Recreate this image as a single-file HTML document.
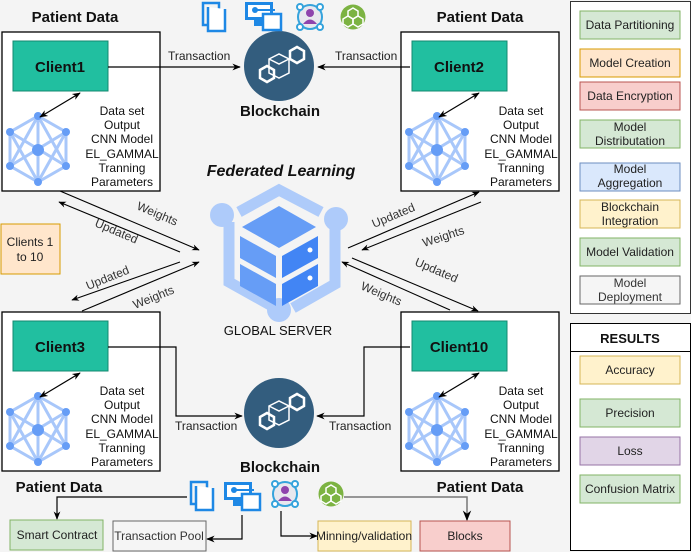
<!DOCTYPE html>
<html><head><meta charset="utf-8"><style>
html,body{margin:0;padding:0;background:#f4f4f4;}
svg{display:block;font-family:"Liberation Sans",sans-serif;}
</style></head><body>
<svg width="691" height="552" viewBox="0 0 691 552" xmlns="http://www.w3.org/2000/svg">
<defs>
<marker id="a" viewBox="0 0 10 10" refX="9" refY="5" markerWidth="7" markerHeight="7" orient="auto-start-reverse"><path d="M0,1 L10,5 L0,9 L3,5 z" fill="#000"/></marker>
<g id="net">
 <g stroke="#a8c7fa" stroke-width="3" fill="none">
  <polygon points="0,-34 28,-18 28,16 0,32 -28,16 -28,-18"/>
  <line x1="0" y1="-34" x2="0" y2="32"/><line x1="-28" y1="-18" x2="28" y2="16"/><line x1="28" y1="-18" x2="-28" y2="16"/>
  <line x1="0" y1="-34" x2="-28" y2="16"/><line x1="0" y1="-34" x2="28" y2="16"/>
  <line x1="0" y1="32" x2="-28" y2="-18"/><line x1="0" y1="32" x2="28" y2="-18"/>
  <line x1="-28" y1="-18" x2="-28" y2="16"/>
 </g>
 <g fill="#669df6"><circle cx="0" cy="-34" r="4"/><circle cx="28" cy="-18" r="4"/><circle cx="28" cy="16" r="4"/><circle cx="0" cy="32" r="4"/><circle cx="-28" cy="16" r="4"/><circle cx="-28" cy="-18" r="4"/><circle cx="0" cy="0" r="6"/></g>
</g>
<g id="bc">
 <circle r="35" fill="#335d7e"/>
 <g stroke="#fff" stroke-width="2.5" fill="none">
  <polygon points="-19,4 -12,0 -5,4 -5,12 -12,16 -19,12"/>
  <polygon points="11,-15 18,-19 25,-15 25,-7 18,-3 11,-7"/>
  <polygon points="-10,-7 0,-12 10,-7 10,7 0,12 -10,7" stroke-width="1.5"/>
  <polyline points="-10,-7 0,-2 10,-7 M0,-2 0,12" stroke-width="1.5"/>
 </g>
</g>
<g id="cl">
 <rect x="0" y="0" width="158" height="159" fill="#fff" stroke="#000" stroke-width="1.3"/>
 <rect x="11" y="9" width="95" height="50" fill="#21bfa0" stroke="#148a70"/>
 <use href="#net" x="36" y="118"/>
 <line x1="78" y1="61" x2="38" y2="85" stroke="#000" stroke-width="1.2" marker-start="url(#a)" marker-end="url(#a)"/>
 <g font-size="12" text-anchor="middle" fill="#111">
  <text x="120" y="83">Data set</text><text x="120" y="97">Output</text><text x="120" y="111">CNN Model</text><text x="120" y="126">EL_GAMMAL</text><text x="120" y="140">Tranning</text><text x="120" y="154">Parameters</text>
 </g>
</g>
<g id="doc"><rect x="2" y="0" width="16" height="22" fill="none" stroke="#1e88e5" stroke-width="2.5"/><path d="M7,4 V28 H24 V6" fill="#fff" stroke="#1e88e5" stroke-width="2.5"/></g>
<g id="mon"><rect x="0" y="0" width="28" height="18" fill="#1e88e5"/><rect x="3" y="3" width="22" height="12" fill="#fff"/><rect x="9" y="18" width="10" height="6" fill="#1e88e5"/><rect x="18" y="12" width="18" height="16" fill="#fff" stroke="#1e88e5" stroke-width="2.5"/><circle cx="10" cy="8" r="3" fill="#1e88e5"/><line x1="10" y1="8" x2="30" y2="8" stroke="#1e88e5" stroke-width="2"/></g>
<g id="per"><circle cx="15" cy="15" r="12" fill="#e8e8ee" stroke="#35a3dc" stroke-width="2"/><circle cx="5" cy="5" r="3" fill="#fff" stroke="#35a3dc" stroke-width="2"/><circle cx="25" cy="5" r="3" fill="#fff" stroke="#35a3dc" stroke-width="2"/><circle cx="5" cy="25" r="3" fill="#fff" stroke="#35a3dc" stroke-width="2"/><circle cx="25" cy="25" r="3" fill="#fff" stroke="#35a3dc" stroke-width="2"/><circle cx="15" cy="11" r="4" fill="#8e44ad"/><path d="M8,22 Q15,13 22,22 z" fill="#8e44ad"/></g>
<g id="grn"><circle cx="12" cy="12" r="12.5" fill="#7cb342"/><g stroke="#fff" stroke-width="1.5" fill="none"><polygon points="12,3 17,6 17,11 12,14 7,11 7,6"/><polygon points="7,11 12,14 12,19 7,22 2,19 2,14"/><polygon points="17,11 22,14 22,19 17,22 12,19 12,14"/></g></g>
</defs>

<!-- clients -->
<use href="#cl" x="2" y="32"/>
<use href="#cl" x="401" y="32"/>
<use href="#cl" x="2" y="312"/>
<use href="#cl" x="401" y="312"/>
<g font-size="15" font-weight="bold" text-anchor="middle" fill="#111">
<text x="60" y="72">Client1</text><text x="459" y="72">Client2</text><text x="60" y="352">Client3</text><text x="459" y="352">Client10</text>
<text x="75" y="22">Patient Data</text><text x="480" y="22">Patient Data</text>
<text x="59" y="492">Patient Data</text><text x="480" y="492">Patient Data</text>
<text x="280" y="116">Blockchain</text><text x="280" y="472">Blockchain</text>
</g>
<text x="281" y="176" font-size="16" font-weight="bold" font-style="italic" text-anchor="middle" fill="#111">Federated Learning</text>
<text x="278" y="335" font-size="13" text-anchor="middle" fill="#111">GLOBAL SERVER</text>

<!-- blockchains -->
<use href="#bc" x="279" y="66"/>
<use href="#bc" x="279" y="413"/>
<g stroke="#000" stroke-width="1.2" fill="none">
<line x1="108" y1="67" x2="240" y2="67" marker-end="url(#a)"/>
<line x1="410" y1="67" x2="318" y2="67" marker-end="url(#a)"/>
<polyline points="108,347 176,347 176,416 242,416" marker-end="url(#a)"/>
<polyline points="410,347 364,347 364,416 317,416" marker-end="url(#a)"/>
</g>
<g font-size="12" fill="#222">
<text x="168" y="60">Transaction</text><text x="335" y="60">Transaction</text>
<text x="175" y="430">Transaction</text><text x="329" y="430">Transaction</text>
</g>

<!-- server icon -->
<g transform="translate(279,252)">
 <g stroke="#aecbfa" stroke-width="11" fill="none">
  <polyline points="-50,-30 -50,30 0,58"/>
  <polyline points="-40,-40 0,-62 42,-40"/>
  <polyline points="56,-25 56,32 14,56"/>
 </g>
 <g fill="#aecbfa"><circle cx="-57" cy="-37" r="12"/><circle cx="57" cy="-33" r="12"/><circle cx="0" cy="58" r="12"/></g>
 <polygon points="0,-46 37,-25 0,-4 -37,-25" fill="#669df6"/>
 <polygon points="-39,-16 -3,4 -3,26 -39,6" fill="#669df6"/>
 <polygon points="3,4 39,-16 39,6 3,26" fill="#4285f4"/>
 <polygon points="-39,12 -3,32 -3,54 -39,34" fill="#669df6"/>
 <polygon points="3,32 39,12 39,34 3,54" fill="#4285f4"/>
 <circle cx="31" cy="-2" r="2.5" fill="#fff"/><circle cx="31" cy="26" r="2.5" fill="#fff"/>
</g>

<!-- weights arrows -->
<g stroke="#000" stroke-width="1.1">
<line x1="60" y1="191" x2="199" y2="250" marker-end="url(#a)"/>
<line x1="180" y1="252" x2="59" y2="202" marker-end="url(#a)"/>
<line x1="180" y1="262" x2="72" y2="300" marker-end="url(#a)"/>
<line x1="82" y1="311" x2="199" y2="262" marker-end="url(#a)"/>
<line x1="348" y1="248" x2="479" y2="192" marker-end="url(#a)"/>
<line x1="481" y1="202" x2="362" y2="250" marker-end="url(#a)"/>
<line x1="352" y1="258" x2="478" y2="311" marker-end="url(#a)"/>
<line x1="450" y1="310" x2="342" y2="262" marker-end="url(#a)"/>
</g>
<g font-size="12" fill="#333">
<text transform="translate(136,209) rotate(23)">Weights</text>
<text transform="translate(94,226) rotate(23)">Updated</text>
<text transform="translate(88,290) rotate(-22)">Updated</text>
<text transform="translate(135,309) rotate(-22)">Weights</text>
<text transform="translate(374,228) rotate(-23)">Updated</text>
<text transform="translate(424,247) rotate(-18)">Weights</text>
<text transform="translate(414,265) rotate(23)">Updated</text>
<text transform="translate(360,289) rotate(23)">Weights</text>
</g>

<!-- clients 1 to 10 -->
<rect x="1" y="224" width="59" height="50" fill="#ffe6cc" stroke="#d79b00"/>
<text x="30" y="246" font-size="12" text-anchor="middle" fill="#222">Clients 1</text>
<text x="30" y="261" font-size="12" text-anchor="middle" fill="#222">to 10</text>

<!-- top icons -->
<use href="#doc" x="201" y="3"/>
<use href="#mon" x="245" y="2"/>
<use href="#per" x="295" y="2"/>
<use href="#grn" x="341" y="5"/>
<!-- bottom icons -->
<use href="#doc" x="189" y="482"/>
<use href="#mon" x="224" y="482"/>
<use href="#per" x="270" y="479"/>
<use href="#grn" x="319" y="482"/>

<g stroke="#000" stroke-width="1.2" fill="none">
<polyline points="187,497 57,497 57,519" marker-end="url(#a)"/>
<polyline points="242,515 242,539 207,539" marker-end="url(#a)"/>
<polyline points="281,511 281,536 317,536" marker-end="url(#a)"/>
<polyline points="344,497 467,497 467,520" stroke="#777" stroke-width="1.5" marker-end="url(#a)"/>
</g>
<g font-size="12" text-anchor="middle" fill="#222">
<rect x="10" y="520" width="93" height="30" fill="#d5e8d4" stroke="#82b366"/><text x="57" y="539">Smart Contract</text>
<rect x="113" y="521" width="93" height="30" fill="#f5f5f5" stroke="#666"/><text x="159" y="540" fill="#333">Transaction Pool</text>
<rect x="318" y="521" width="93" height="30" fill="#fff2cc" stroke="#d6b656"/><text x="364" y="540">Minning/validation</text>
<rect x="420" y="521" width="90" height="30" fill="#f8cecc" stroke="#b85450"/><text x="465" y="540">Blocks</text>
</g>

<!-- right panel -->
<rect x="570.5" y="1.5" width="120" height="312" fill="#fff" stroke="#333"/>
<g font-size="12" text-anchor="middle" fill="#222">
<rect x="580" y="11" width="100" height="28" fill="#d5e8d4" stroke="#82b366"/><text x="630" y="29">Data Partitioning</text>
<rect x="580" y="49" width="100" height="28" fill="#ffe6cc" stroke="#d79b00"/><text x="630" y="67">Model Creation</text>
<rect x="580" y="82" width="100" height="28" fill="#f8cecc" stroke="#b85450"/><text x="630" y="100">Data Encryption</text>
<rect x="580" y="120" width="100" height="28" fill="#d5e8d4" stroke="#82b366"/><text x="630" y="131">Model</text><text x="630" y="145">Distributation</text>
<rect x="580" y="163" width="100" height="28" fill="#dae8fc" stroke="#6c8ebf"/><text x="630" y="173">Model</text><text x="630" y="187">Aggregation</text>
<rect x="580" y="200" width="100" height="28" fill="#fff2cc" stroke="#d6b656"/><text x="630" y="211">Blockchain</text><text x="630" y="225">Integration</text>
<rect x="580" y="238" width="100" height="28" fill="#d5e8d4" stroke="#82b366"/><text x="630" y="256">Model Validation</text>
<rect x="580" y="276" width="100" height="28" fill="#f5f5f5" stroke="#666"/><text x="630" y="287" fill="#333">Model</text><text x="630" y="301" fill="#333">Deployment</text>
</g>
<rect x="570.5" y="323.5" width="120" height="227" fill="#fff" stroke="#000"/>
<line x1="570" y1="351.5" x2="691" y2="351.5" stroke="#000"/>
<text x="630" y="343" font-size="13" font-weight="bold" text-anchor="middle" fill="#111">RESULTS</text>
<g font-size="12" text-anchor="middle" fill="#222">
<rect x="580" y="356" width="100" height="28" fill="#fff2cc" stroke="#d6b656"/><text x="630" y="374">Accuracy</text>
<rect x="580" y="399" width="100" height="28" fill="#d5e8d4" stroke="#82b366"/><text x="630" y="417">Precision</text>
<rect x="580" y="437" width="100" height="28" fill="#e1d5e7" stroke="#9673a6"/><text x="630" y="455">Loss</text>
<rect x="580" y="475" width="100" height="28" fill="#d5e8d4" stroke="#82b366"/><text x="630" y="493">Confusion Matrix</text>
</g>
</svg>
</body></html>
